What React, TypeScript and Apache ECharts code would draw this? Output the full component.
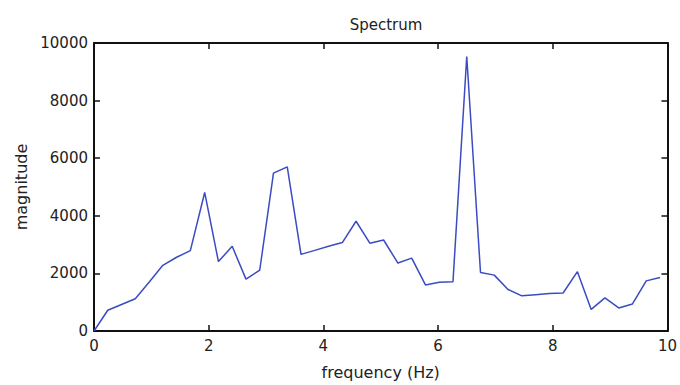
import React, { useEffect, useRef } from "react";
import * as echarts from "echarts";

const frequencies = [
  0, 0.24, 0.48, 0.72, 0.96, 1.2, 1.44, 1.68, 1.93, 2.17, 2.41, 2.65, 2.89, 3.13,
  3.37, 3.61, 3.85, 4.09, 4.33, 4.57, 4.81, 5.05, 5.3, 5.54, 5.78, 6.02, 6.26,
  6.5, 6.74, 6.98, 7.22, 7.46, 7.7, 7.94, 8.18, 8.43, 8.67, 8.91, 9.15, 9.39,
  9.63, 9.87,
];
const magnitudes = [
  0, 720, 920, 1120, 1690, 2280, 2560, 2790, 4810, 2410, 2940, 1800, 2110, 5480,
  5700, 2660, 2800, 2940, 3070, 3810, 3050, 3160, 2360, 2530, 1600, 1690, 1710,
  9530, 2030, 1940, 1440, 1220, 1260, 1300, 1320, 2060, 750, 1150, 800, 940,
  1740, 1860,
];
const xTicks = [0, 2, 4, 6, 8, 10];
const yTicks = [0, 2000, 4000, 6000, 8000, 10000];

const FONT = "DejaVu Sans";

export default function App() {
  const ref = useRef<HTMLDivElement>(null);
  useEffect(() => {
    if (!ref.current) return;
    const chart = echarts.init(ref.current, undefined, { renderer: "svg" });
    const data = frequencies.map((f, i) => [f, magnitudes[i]]);
    const axisLine = { show: true, onZero: false, lineStyle: { color: "#111", width: 2 } };
    const tick = { show: true, inside: true, length: 6, lineStyle: { color: "#111", width: 1.5 } };
    const labelFmt = (v: number) => String(v);
    const xBase = {
      type: "value" as const,
      min: xTicks[0],
      max: xTicks[xTicks.length - 1],
      interval: xTicks[1] - xTicks[0],
      splitLine: { show: false },
      axisLine,
      axisTick: tick,
    };
    const yBase = {
      type: "value" as const,
      min: yTicks[0],
      max: yTicks[yTicks.length - 1],
      interval: yTicks[1] - yTicks[0],
      splitLine: { show: false },
      axisLine,
      axisTick: tick,
    };
    chart.setOption({
      animation: false,
      backgroundColor: "#fff",
      title: {
        text: "Spectrum",
        left: 381,
        textAlign: "center",
        top: 12,
        textStyle: { fontFamily: FONT, fontSize: 15, fontWeight: "normal", color: "#222" },
      },
      grid: { left: 94, right: 12, top: 43, bottom: 48 },
      xAxis: [
        {
          ...xBase,
          position: "bottom",
          name: "frequency (Hz)",
          nameLocation: "middle",
          nameGap: 33,
          nameTextStyle: { fontFamily: FONT, fontSize: 16, color: "#222" },
          axisLabel: { fontFamily: FONT, fontSize: 15, color: "#222", margin: 7, formatter: labelFmt },
        },
        { ...xBase, position: "top", axisLabel: { show: false } },
      ],
      yAxis: [
        {
          ...yBase,
          position: "left",
          name: "magnitude",
          nameLocation: "middle",
          nameGap: 64,
          nameTextStyle: { fontFamily: FONT, fontSize: 16, color: "#222" },
          axisLabel: { fontFamily: FONT, fontSize: 15, color: "#222", margin: 6, formatter: labelFmt },
        },
        { ...yBase, position: "right", axisLabel: { show: false } },
      ],
      series: [
        {
          type: "line",
          data,
          showSymbol: false,
          lineStyle: { color: "#3a4bc4", width: 1.5 },
          itemStyle: { color: "#3a4bc4" },
        },
      ],
    });
    return () => chart.dispose();
  }, []);
  return (
    <div
      ref={ref}
      style={{ position: "fixed", left: 0, top: 0, width: 680, height: 385 }}
    />
  );
}
